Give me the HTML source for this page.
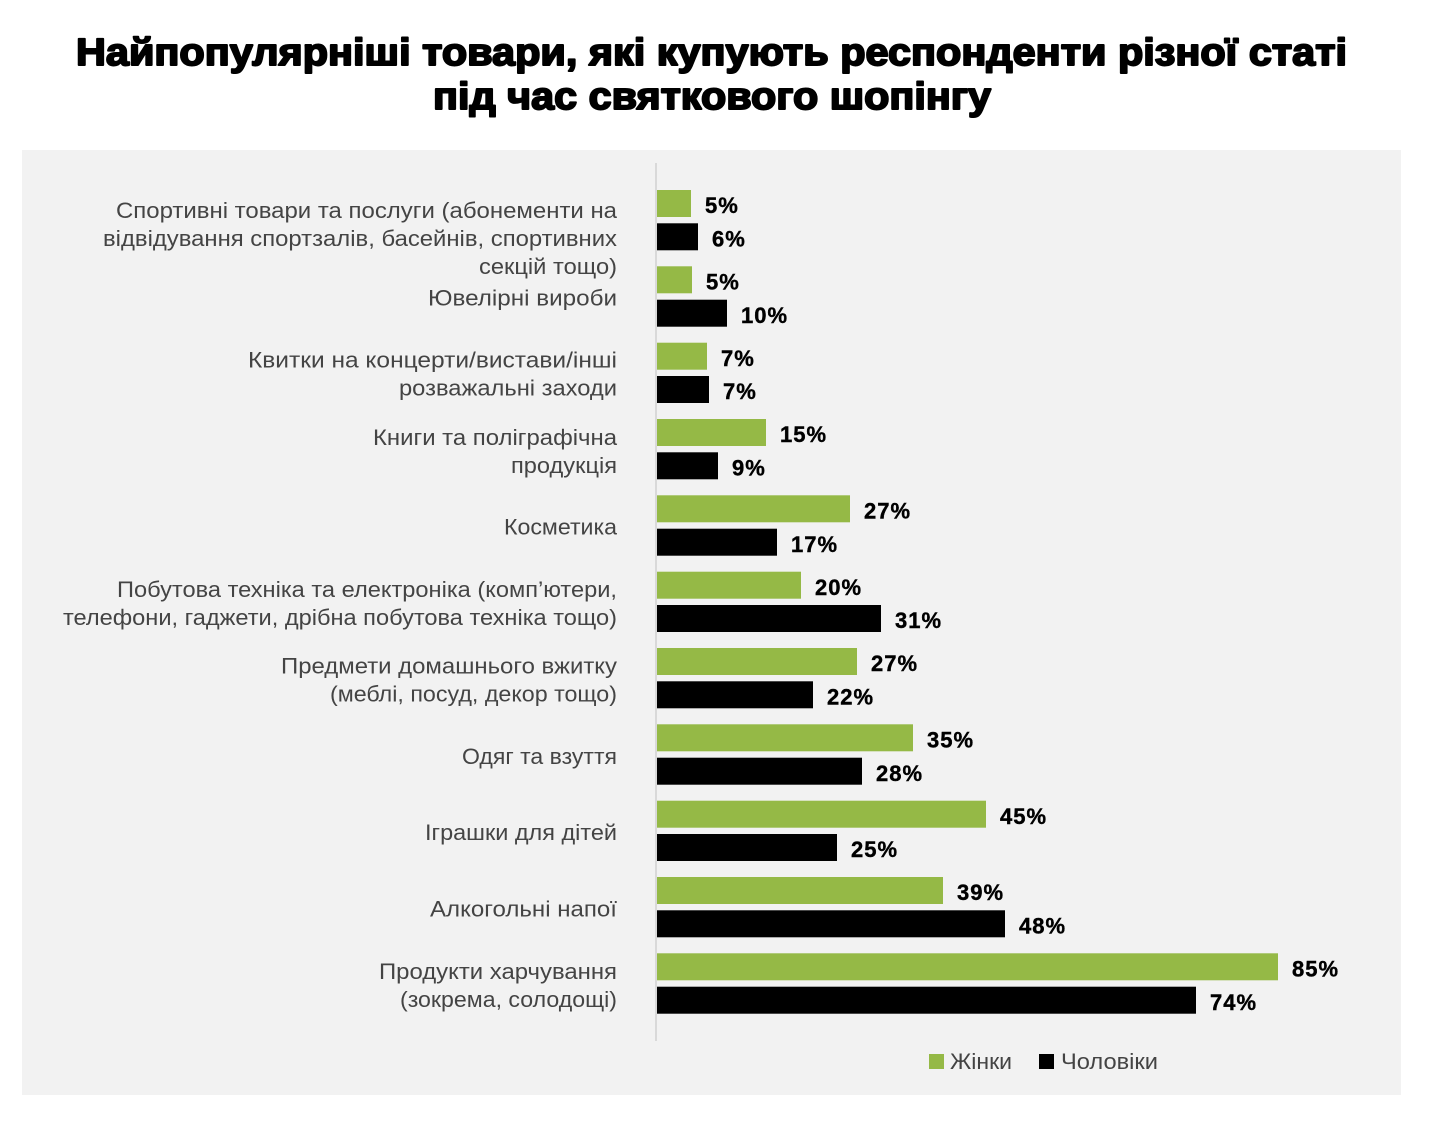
<!DOCTYPE html>
<html><head><meta charset="utf-8"><style>
html,body{margin:0;padding:0;background:#fff;}
svg{display:block;}
.t{font-family:"Liberation Sans","Noto Sans CJK SC",sans-serif;font-weight:bold;font-size:38px;fill:#000;stroke:#000;stroke-width:1.9px;stroke-linejoin:round;}
.l{font-family:"Liberation Sans","Noto Sans CJK SC",sans-serif;font-size:22px;fill:#444;}
.v{font-family:"Liberation Sans","Noto Sans CJK SC",sans-serif;font-size:22px;font-weight:bold;fill:#000;letter-spacing:1px;stroke:#000;stroke-width:0.4px;}
.g{fill:#95b946;}
.b{fill:#000;}
</style></head><body>
<svg width="1444" height="1124" viewBox="0 0 1444 1124" xmlns="http://www.w3.org/2000/svg">
<rect x="0" y="0" width="1444" height="1124" fill="#fff"/>
<text class="t" x="711.5" y="65" text-anchor="middle" textLength="1271" lengthAdjust="spacingAndGlyphs">Найпопулярніші товари, які купують респонденти різної статі</text>
<text class="t" x="712" y="109" text-anchor="middle" textLength="558" lengthAdjust="spacingAndGlyphs">під час святкового шопінгу</text>
<rect x="22" y="150" width="1379" height="945" fill="#f2f2f2"/>
<rect x="655" y="163" width="2" height="878" fill="#d9d9d9"/>

<!-- labels -->
<g text-anchor="end">
<text class="l" x="617" y="218" textLength="501" lengthAdjust="spacingAndGlyphs">Спортивні товари та послуги (абонементи на</text>
<text class="l" x="617" y="246" textLength="514" lengthAdjust="spacingAndGlyphs">відвідування спортзалів, басейнів, спортивних</text>
<text class="l" x="617" y="274" textLength="138" lengthAdjust="spacingAndGlyphs">секцій тощо)</text>
<text class="l" x="617" y="305.5" textLength="189" lengthAdjust="spacingAndGlyphs">Ювелірні вироби</text>
<text class="l" x="617" y="367.5" textLength="369" lengthAdjust="spacingAndGlyphs">Квитки на концерти/вистави/інші</text>
<text class="l" x="617" y="395.5" textLength="218" lengthAdjust="spacingAndGlyphs">розважальні заходи</text>
<text class="l" x="617" y="445" textLength="244" lengthAdjust="spacingAndGlyphs">Книги та поліграфічна</text>
<text class="l" x="617" y="473" textLength="106" lengthAdjust="spacingAndGlyphs">продукція</text>
<text class="l" x="617" y="534.5" textLength="113" lengthAdjust="spacingAndGlyphs">Косметика</text>
<text class="l" x="617" y="597" textLength="500" lengthAdjust="spacingAndGlyphs">Побутова техніка та електроніка (комп’ютери,</text>
<text class="l" x="617" y="625" textLength="554" lengthAdjust="spacingAndGlyphs">телефони, гаджети, дрібна побутова техніка тощо)</text>
<text class="l" x="617" y="673.5" textLength="336" lengthAdjust="spacingAndGlyphs">Предмети домашнього вжитку</text>
<text class="l" x="617" y="701.5" textLength="287" lengthAdjust="spacingAndGlyphs">(меблі, посуд, декор тощо)</text>
<text class="l" x="617" y="764" textLength="155" lengthAdjust="spacingAndGlyphs">Одяг та взуття</text>
<text class="l" x="617" y="840" textLength="192" lengthAdjust="spacingAndGlyphs">Іграшки для дітей</text>
<text class="l" x="617" y="916.5" textLength="187" lengthAdjust="spacingAndGlyphs">Алкогольні напої</text>
<text class="l" x="617" y="979" textLength="238" lengthAdjust="spacingAndGlyphs">Продукти харчування</text>
<text class="l" x="617" y="1007" textLength="217" lengthAdjust="spacingAndGlyphs">(зокрема, солодощі)</text>
</g>

<!-- bars -->
<rect class="g" x="657" y="190" width="34" height="27"/>
<rect class="b" x="657" y="223.3" width="41" height="27"/>
<rect class="g" x="657" y="266.3" width="35" height="27"/>
<rect class="b" x="657" y="299.7" width="70" height="27"/>
<rect class="g" x="657" y="342.7" width="50" height="27"/>
<rect class="b" x="657" y="376" width="52" height="27"/>
<rect class="g" x="657" y="419" width="109" height="27"/>
<rect class="b" x="657" y="452.3" width="61" height="27"/>
<rect class="g" x="657" y="495.3" width="193" height="27"/>
<rect class="b" x="657" y="528.7" width="120" height="27"/>
<rect class="g" x="657" y="571.7" width="144" height="27"/>
<rect class="b" x="657" y="605" width="224" height="27"/>
<rect class="g" x="657" y="648" width="200" height="27"/>
<rect class="b" x="657" y="681.3" width="156" height="27"/>
<rect class="g" x="657" y="724.3" width="256" height="27"/>
<rect class="b" x="657" y="757.7" width="205" height="27"/>
<rect class="g" x="657" y="800.7" width="329" height="27"/>
<rect class="b" x="657" y="834" width="180" height="27"/>
<rect class="g" x="657" y="877" width="286" height="27"/>
<rect class="b" x="657" y="910.3" width="348" height="27"/>
<rect class="g" x="657" y="953.3" width="621" height="27"/>
<rect class="b" x="657" y="986.7" width="539" height="27"/>

<!-- values -->
<text class="v" x="705" y="213">5%</text>
<text class="v" x="712" y="246.5">6%</text>
<text class="v" x="706" y="289.5">5%</text>
<text class="v" x="741" y="323">10%</text>
<text class="v" x="721" y="366">7%</text>
<text class="v" x="723" y="399">7%</text>
<text class="v" x="780" y="442">15%</text>
<text class="v" x="732" y="475.5">9%</text>
<text class="v" x="864" y="518.5">27%</text>
<text class="v" x="791" y="552">17%</text>
<text class="v" x="815" y="595">20%</text>
<text class="v" x="895" y="628">31%</text>
<text class="v" x="871" y="671">27%</text>
<text class="v" x="827" y="704.5">22%</text>
<text class="v" x="927" y="747.5">35%</text>
<text class="v" x="876" y="781">28%</text>
<text class="v" x="1000" y="824">45%</text>
<text class="v" x="851" y="857">25%</text>
<text class="v" x="957" y="900">39%</text>
<text class="v" x="1019" y="933.5">48%</text>
<text class="v" x="1292" y="976.5">85%</text>
<text class="v" x="1210" y="1010">74%</text>

<!-- legend -->
<rect class="g" x="929" y="1054" width="15" height="15"/>
<text class="l" x="950" y="1069" textLength="62" lengthAdjust="spacingAndGlyphs">Жінки</text>
<rect class="b" x="1039" y="1054" width="15" height="15"/>
<text class="l" x="1061" y="1069" textLength="97" lengthAdjust="spacingAndGlyphs">Чоловіки</text>
</svg>
</body></html>
